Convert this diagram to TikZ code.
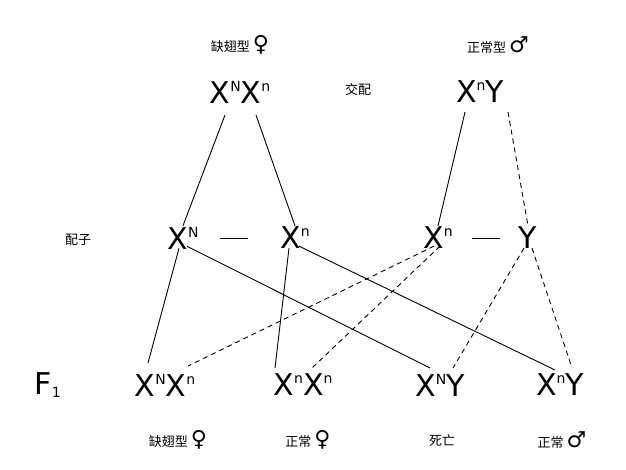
\documentclass[tikz,border=0pt]{standalone}
\usepackage{fontspec}
\setmainfont{DejaVu Sans}
\newfontfamily\cjk{Noto Sans CJK SC}
\newfontfamily\sym{DejaVu Sans}
\usetikzlibrary{positioning}
\tikzset{
  geno/.style={font=\fontsize{30}{32}\selectfont, inner sep=1pt},
  lbl/.style={font=\cjk\fontsize{13}{15}\selectfont, inner sep=1pt},
  cross/.style={line width=0.9pt},
  cross2/.style={line width=0.9pt, dash pattern=on 5pt off 4pt},
}
\newcommand{\gX}[1]{X\raisebox{12pt}{\fontsize{14}{14}\selectfont #1}}
\newcommand{\fem}{{\sym\fontsize{22}{22}\selectfont ♀}}
\newcommand{\mal}{{\sym\fontsize{22}{22}\selectfont ♂}}
\begin{document}
\begin{tikzpicture}[x=1pt,y=-1pt]
\useasboundingbox (0,0) rectangle (626,470);
% parents
\node[lbl] (pf) at (240,45) {缺翅型 \fem};
\node[lbl] (pm) at (498,45) {正常型 \mal};
\node[geno] (mom) at (240,92) {\gX{N}\gX{n}};
\node[lbl] (mate) at (358,90) {交配};
\node[geno] (dad) at (480,92) {\gX{n}Y};
% gametes
\node[lbl] (gam) at (78,240) {配子};
\node[geno] (gN) at (183,238) {\gX{N}};
\node[geno] (gn) at (295,238) {\gX{n}};
\node[geno] (gdn) at (438,238) {\gX{n}};
\node[geno] (gY) at (528,238) {Y};
\draw[cross] (gN.east) ++(20,0) coordinate (d1) -- ++(28,0);
\draw[cross] (gdn.east) ++(18,0) coordinate (d2) -- ++(28,0);
% offspring
\node[geno] (F) at (48,385) {F\textsubscript{\fontsize{14}{14}\selectfont 1}};
\node[geno] (c1) at (165,385) {\gX{N}\gX{n}};
\node[geno] (c2) at (303,385) {\gX{n}\gX{n}};
\node[geno] (c3) at (440,385) {\gX{N}Y};
\node[geno] (c4) at (560,385) {\gX{n}Y};
\node[lbl] (l1) at (178,440) {缺翅型 \fem};
\node[lbl] (l2) at (308,440) {正常 \fem};
\node[lbl] (l3) at (442,440) {死亡};
\node[lbl] (l4) at (562,440) {正常 \mal};
% parent to gamete
\draw[cross] (225,115) -- (gN.north);
\draw[cross] (256,115) -- (gn.north);
\draw[cross] (465,112) -- (gdn.north);
\draw[cross2] (508,112) -- (gY.north);
% gamete to offspring
\draw[cross] (gN.south) ++(-4,-2) -- (148,363);
\draw[cross] (gN.south) ++(4,-4) -- (430,368);
\draw[cross] (gn.south) ++(-6,-2) -- (275,368);
\draw[cross] (gn.south) ++(4,-4) -- (555,370);
\draw[cross2] (gdn.south) ++(-4,-4) -- (188,366);
\draw[cross2] (gdn.south) ++(2,-4) -- (312,368);
\draw[cross2] (gY.south) ++(-4,-2) -- (453,368);
\draw[cross2] (gY.south) ++(4,-2) -- (572,368);
\end{tikzpicture}
\end{document}
